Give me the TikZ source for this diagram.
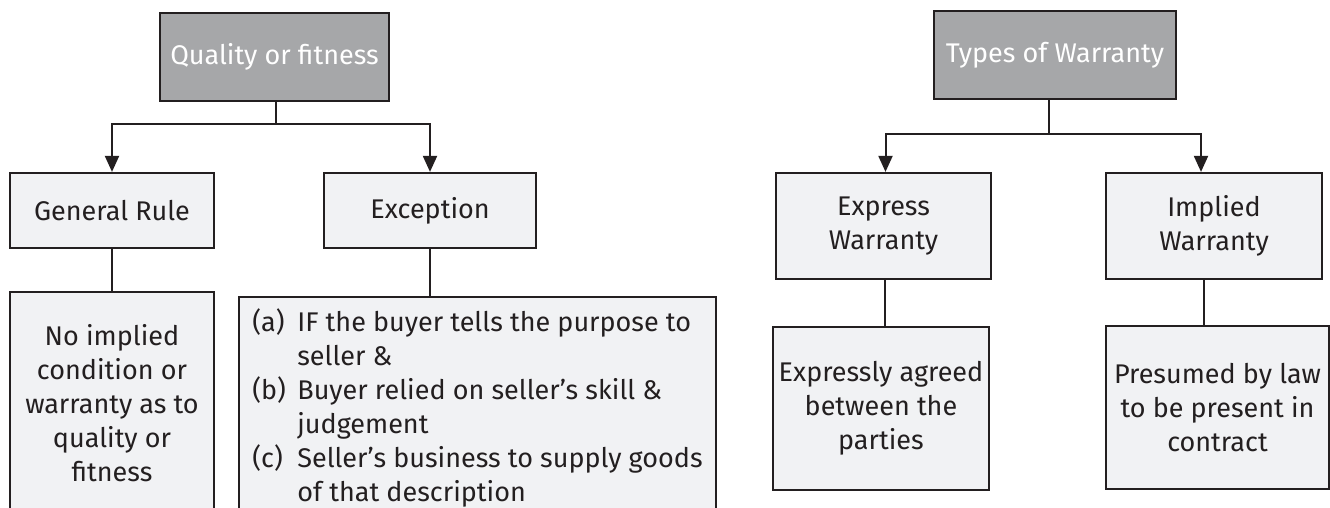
\documentclass[tikz,border=0pt]{standalone}
\usepackage{fontspec}
\setmainfont{Fira Sans}
\usetikzlibrary{arrows.meta}
\definecolor{edge}{HTML}{231F20}
\definecolor{darkfill}{HTML}{A6A7A9}
\definecolor{lightfill}{HTML}{F1F2F4}
\begin{document}
\begin{tikzpicture}[x=1pt,y=-1pt,
  plain/.style={draw=edge, line width=2.2pt, fill=lightfill, inner sep=0pt,
    font=\fontsize{27}{34}\selectfont, text=edge},
  box/.style={plain, align=center},
  headbox/.style={box, fill=darkfill, text=white},
  conn/.style={draw=edge, line width=2pt},
  arr/.style={conn, -{Triangle[length=16pt,width=14pt]}}]
\useasboundingbox (0,0) rectangle (1330,508);
\clip (0,0) rectangle (1330,508);
% left tree
\node[headbox, minimum width=229pt, minimum height=88pt] (q) at (274.5,57) {Quality or fitness};
\node[box, minimum width=204pt, minimum height=75pt] (gr) at (112,210.5) {General Rule};
\node[box, minimum width=212pt, minimum height=75pt] (ex) at (430,210.5) {Exception};
\node[box, minimum width=204pt, minimum height=223pt] (grd) at (112,403.5)
  {No implied\\condition or\\warranty as to\\quality or\\fitness};
\node[plain, minimum width=477pt, minimum height=226pt] (exd) at (477.5,410)
  {\renewcommand{\arraystretch}{1}\begin{tabular}{@{}p{45pt}@{}l@{}}
  (a) & IF the buyer tells the purpose to\\
   & seller \&\\
  (b) & Buyer relied on seller’s skill \&\\
   & judgement\\
  (c) & Seller’s business to supply goods\\
   & of that description
  \end{tabular}};
\coordinate (qj) at (276,124);
\draw[conn] (q.south -| qj) -- (qj);
\draw[arr] (qj) -| (gr.north);
\draw[arr] (qj) -| (ex.north);
\draw[conn] (gr.south) -- (grd.north -| gr.south);
\draw[conn] (ex.south) -- (exd.north -| ex.south);
% right tree
\node[headbox, minimum width=242pt, minimum height=88pt] (t) at (1055,55) {Types of Warranty};
\node[box, minimum width=215pt, minimum height=106pt] (ew) at (883.5,226) {Express\\Warranty};
\node[box, minimum width=216pt, minimum height=106pt] (iw) at (1214,226) {Implied\\Warranty};
\node[box, minimum width=216pt, minimum height=163pt] (ewd) at (881,408.5)
  {Expressly agreed\\between the\\parties};
\node[box, minimum width=223pt, minimum height=163pt] (iwd) at (1217.5,407.5)
  {Presumed by law\\to be present in\\contract};
\coordinate (tj) at (1049,134);
\draw[conn] (t.south -| tj) -- (tj);
\draw[arr] (tj) -| ([xshift=2pt]ew.north);
\draw[arr] (tj) -| ([xshift=-13pt]iw.north);
\draw[conn] ([xshift=1pt]ew.south) -- ([xshift=1pt]ew.south |- ewd.north);
\draw[conn] ([xshift=-10pt]iw.south) -- ([xshift=-10pt]iw.south |- iwd.north);
\end{tikzpicture}
\end{document}
